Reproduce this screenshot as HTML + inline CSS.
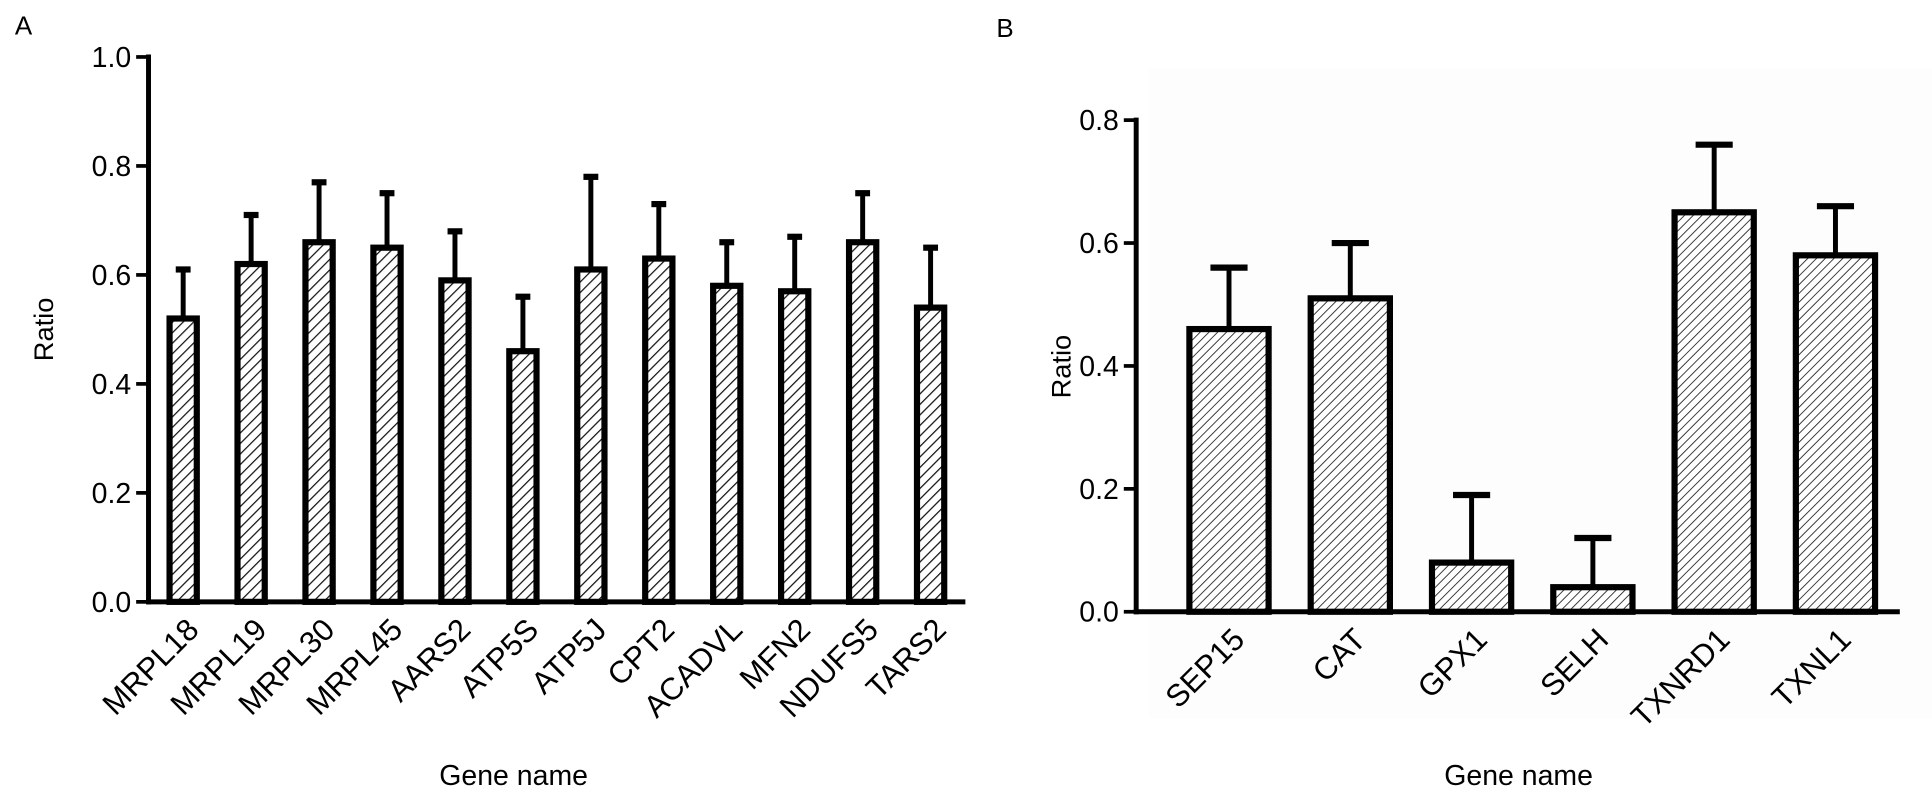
<!DOCTYPE html>
<html><head><meta charset="utf-8"><style>
html,body{margin:0;padding:0;background:#fff;}
svg{display:block;font-family:"Liberation Sans",Arial,sans-serif;}
</style></head><body>
<svg id="chart" width="1932" height="800" viewBox="0 0 1561 646" preserveAspectRatio="none" xmlns="http://www.w3.org/2000/svg">
<defs>
<pattern id="hatchA" patternUnits="userSpaceOnUse" width="6" height="6" patternTransform="rotate(45)">
<rect width="6" height="6" fill="#fff"/><line x1="0" y1="0" x2="0" y2="6" stroke="#111" stroke-width="2"/></pattern>
<pattern id="hatchB" patternUnits="userSpaceOnUse" width="5" height="5" patternTransform="rotate(45)">
<rect width="5" height="5" fill="#fff"/><line x1="0" y1="0" x2="0" y2="5" stroke="#222" stroke-width="1.4"/></pattern>
</defs>
<rect x="928" y="55" width="633" height="525" fill="#fdfdfd"/>
<text x="12" y="28" font-size="21">A</text>
<text x="805" y="30" font-size="21">B</text>
<g id="pa"></g>
<g id="pb"></g>
</svg>
<script>
const catsA = ["MRPL18","MRPL19","MRPL30","MRPL45","AARS2","ATP5S","ATP5J","CPT2","ACADVL","MFN2","NDUFS5","TARS2"];
const valsA = [0.52,0.62,0.66,0.65,0.59,0.46,0.61,0.63,0.58,0.57,0.66,0.54];
const errA = [0.09,0.09,0.11,0.10,0.09,0.10,0.17,0.10,0.08,0.10,0.09,0.11];
const ticksA = ["0.0","0.2","0.4","0.6","0.8","1.0"];
const catsB = ["SEP15","CAT","GPX1","SELH","TXNRD1","TXNL1"];
const valsB = [0.46,0.51,0.08,0.04,0.65,0.58];
const errB = [0.10,0.09,0.11,0.08,0.11,0.08];
const ticksB = ["0.0","0.2","0.4","0.6","0.8"];

const NS="http://www.w3.org/2000/svg";
function mk(parent,tag,attrs){const e=document.createElementNS(NS,tag);for(const k in attrs)e.setAttribute(k,attrs[k]);parent.appendChild(e);return e;}

function draw(g,cfg){
  const {cats,vals,errs,ticks,x0,x1,y0,y1,vmax,first,step,bw,hatch,capw,prefix,ylabX,ylabY,gnX}=cfg;
  const y=v=>y0-(v/vmax)*(y0-y1);
  const xc=i=>first+i*step;
  cats.forEach((c,i)=>{
    const top=y(vals[i]+errs[i]);
    const l=mk(g,'line',{x1:xc(i),x2:xc(i),y1:y(vals[i]),y2:top,stroke:'#000','stroke-width':4});
    
    
    const cap=mk(g,'line',{x1:xc(i)-capw/2,x2:xc(i)+capw/2,y1:top,y2:top,stroke:'#000','stroke-width':5});
    
    
    const r=mk(g,'rect',{x:xc(i)-bw/2,y:y(vals[i]),width:bw,height:y0-y(vals[i]),fill:'url(#'+hatch+')',stroke:'#000','stroke-width':5});
    
    
    const lx=xc(i)+14, ly=y0+24;
    const t=mk(g,'text',{x:lx,y:ly,'font-size':25,'text-anchor':'end',transform:'rotate(-45 '+lx+' '+ly+')'});
    t.textContent=c;
    
    
  });
  const ya=mk(g,'line',{x1:x0,x2:x0,y1:y1-2,y2:y0+2,stroke:'#000','stroke-width':4});
  
  
  const xa=mk(g,'line',{x1:x0-2,x2:x1,y1:y0,y2:y0,stroke:'#000','stroke-width':4});
  
  
  ticks.forEach(tl=>{
    const v=parseFloat(tl);
    const tk=mk(g,'line',{x1:x0-10,x2:x0,y1:y(v),y2:y(v),stroke:'#000','stroke-width':3});
    
    
    const t=mk(g,'text',{x:x0-14,y:y(v)+8,'font-size':23,'text-anchor':'end'});
    t.textContent=tl;
    
    
  });
  const yt=mk(g,'text',{x:ylabX,y:ylabY,'font-size':22,'text-anchor':'middle',transform:'rotate(-90 '+ylabX+' '+ylabY+')'});
  yt.textContent='Ratio';
  
  
  const xt=mk(g,'text',{x:gnX,y:634,'font-size':23,'text-anchor':'middle'});
  xt.textContent='Gene name';
  
  
}
draw(document.getElementById('pa'),{cats:catsA,vals:valsA,errs:errA,ticks:ticksA,x0:120,x1:780,y0:486,y1:46,vmax:1.0,first:148,step:54.9,bw:22,hatch:'hatchA',capw:12,prefix:'a-',ylabX:43,ylabY:266,gnX:415});
draw(document.getElementById('pb'),{cats:catsB,vals:valsB,errs:errB,ticks:ticksB,x0:918,x1:1535,y0:494,y1:97,vmax:0.8,first:993,step:98,bw:64,hatch:'hatchB',capw:30,prefix:'b-',ylabX:865,ylabY:296,gnX:1227});
</script>
</body></html>
